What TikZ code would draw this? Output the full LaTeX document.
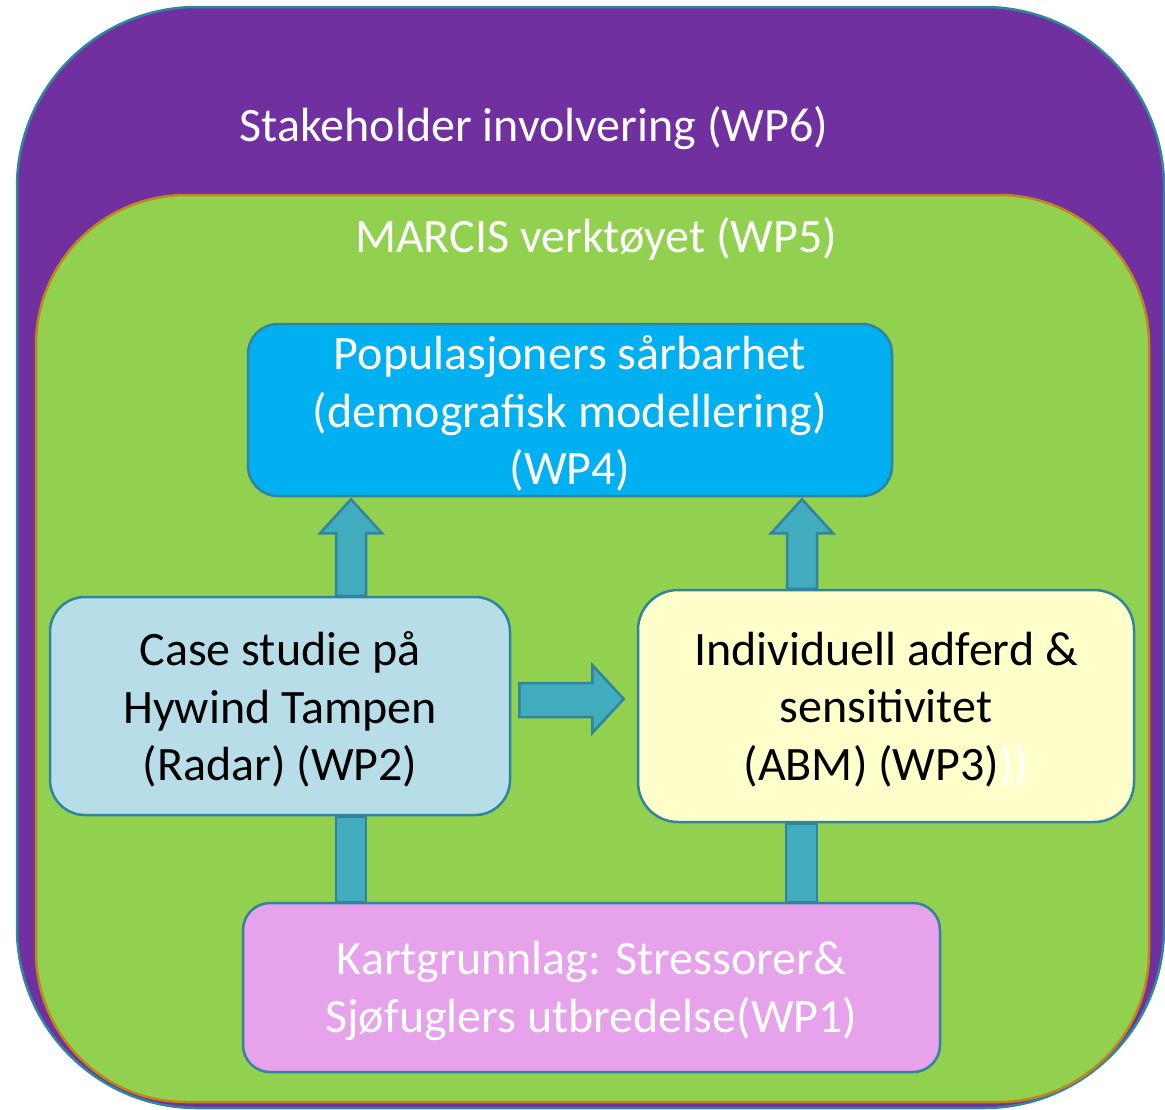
\documentclass[tikz,border=0pt]{standalone}
\usepackage{fontspec}
\setmainfont{Carlito}
\usetikzlibrary{calc}
\definecolor{purp}{HTML}{7030A0}
\definecolor{outerline}{HTML}{31859C}
\definecolor{grn}{HTML}{92D050}
\definecolor{grnline}{HTML}{C0861A}
\definecolor{bluefill}{HTML}{00B0F0}
\definecolor{casefill}{HTML}{B7DEE8}
\definecolor{yelfill}{HTML}{FFFFCC}
\definecolor{pinkfill}{HTML}{E6A2EA}
\definecolor{edge}{HTML}{31849B}
\definecolor{arrfill}{HTML}{41ACBE}
\pgfdeclarelayer{back}
\pgfdeclarelayer{mid}
\pgfsetlayers{back,mid,main}
\newcommand\lowertext[1]{\raisebox{-3.5pt}[\height][\depth]{#1}}
\begin{document}
\begin{tikzpicture}[x=1pt,y=-1pt,
  box/.style={draw=edge, line width=2.5pt, rounded corners=#1, inner sep=0pt, align=center,
    font=\fontsize{48}{57.5}\selectfont},
  box/.default=30pt,
  arrowst/.style={draw=edge, fill=arrfill, line width=2.5pt, line join=miter},
  lbl/.style={text=white, font=\fontsize{48}{57.5}\selectfont, inner sep=0pt}]
\useasboundingbox (0,0) rectangle (1165,1109);

\node[box=30pt, fill=bluefill, text=white, minimum width=644pt, minimum height=172pt] (wp4) at (570,410)
  {\lowertext{\parbox{640pt}{\centering Populasjoners sårbarhet\\(demografisk modellering)\\(WP4)}}};
\node[box=35pt, fill=casefill, text=black, minimum width=460pt, minimum height=218pt] (case) at (280,706)
  {\lowertext{\parbox{456pt}{\centering Case studie på\\Hywind Tampen\\(Radar) (WP2)}}};
\node[box=40pt, fill=yelfill, text=black, minimum width=496pt, minimum height=232pt] (ind) at (886,706)
  {\lowertext{\parbox{492pt}{\centering Individuell adferd \&\\sensitivitet\\(ABM) (WP3)\textcolor{white}{))}}}};
\node[box=27pt, fill=pinkfill, text=white, minimum width=697pt, minimum height=169pt] (kart) at (591.5,987.5)
  {\lowertext{\parbox{693pt}{\centering Kartgrunnlag: Stressorer\&\\Sjøfuglers utbredelse(WP1)}}};

\begin{pgfonlayer}{back}
  \draw[fill=purp, draw=outerline, line width=2.5pt, rounded corners=180pt] (17,7) rectangle (1164,1108);
  \draw[fill=grn, draw=grnline, line width=2.5pt, rounded corners=150pt] (36,195) rectangle (1149,1102);
\end{pgfonlayer}

\node[lbl] (wp6) at (534,128) {Stakeholder involvering (WP6)};
\node[lbl] (wp5) at (596,239) {MARCIS verktøyet (WP5)};

\begin{pgfonlayer}{mid}
  % up arrows
  \draw[arrowst] let \p1=(case.north), \p2=(wp4.south) in
    (336pt,\y1) -- (336pt,\y2-36pt) -- (320pt,\y2-36pt) -- (351pt,\y2-2pt) -- (382pt,\y2-36pt)
    -- (366pt,\y2-36pt) -- (366pt,\y1) -- cycle;
  \draw[arrowst] let \p1=(ind.north), \p2=(wp4.south) in
    (787pt,\y1) -- (787pt,\y2-36pt) -- (771pt,\y2-36pt) -- (802pt,\y2-2pt) -- (833pt,\y2-36pt)
    -- (817pt,\y2-36pt) -- (817pt,\y1) -- cycle;
  % bottom shafts
  \draw[arrowst] let \p1=(case.south), \p2=(kart.north) in
    (336pt,\y1) rectangle (366pt,\y2);
  \draw[arrowst] let \p1=(ind.south), \p2=(kart.north) in
    (786pt,\y1) rectangle (817pt,\y2);
  % right arrow
  \draw[arrowst] let \p1=(case.east), \p2=(ind.west) in
    (\x1+8pt,-683pt) -- (\x1+81pt,-683pt) -- (\x1+81pt,-665pt) -- (\x2-13pt,-699pt)
    -- (\x1+81pt,-733pt) -- (\x1+81pt,-717pt) -- (\x1+8pt,-717pt) -- cycle;
\end{pgfonlayer}
\end{tikzpicture}
\end{document}
